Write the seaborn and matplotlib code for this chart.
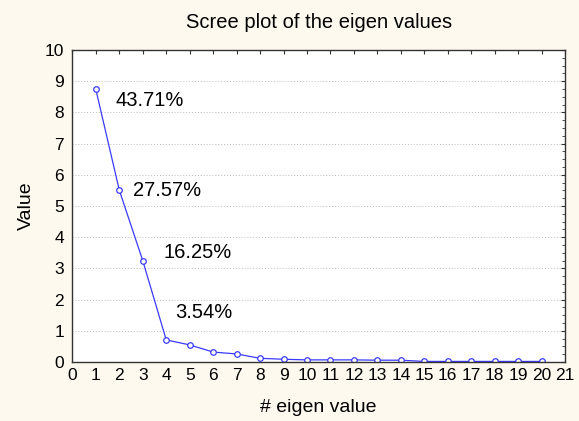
import numpy as np
import pandas as pd
import matplotlib
matplotlib.use('Agg')
import matplotlib.pyplot as plt
from matplotlib.ticker import MultipleLocator
import seaborn as sns

# eigen values (20 variables, sum ~ 20)
eigen_idx = list(range(1, 21))
eigen_vals = [8.74, 5.51, 3.25, 0.71, 0.55, 0.32, 0.26, 0.12, 0.09, 0.07,
              0.07, 0.07, 0.06, 0.06, 0.02, 0.02, 0.02, 0.02, 0.02, 0.02]
pct_labels = ['43.71%', '27.57%', '16.25%', '3.54%']
pct_x = [1.85, 2.6, 3.9, 4.4]
pct_y = [8.37, 5.5, 3.5, 1.6]

df = pd.DataFrame({'idx': eigen_idx, 'value': eigen_vals})

sns.set_style('white')
plt.rcParams['font.family'] = ['Liberation Sans', 'DejaVu Sans']
plt.rcParams['text.color'] = 'black'
plt.rcParams['axes.labelcolor'] = 'black'
plt.rcParams['xtick.color'] = 'black'
plt.rcParams['ytick.color'] = 'black'

bg = '#fef9ef'
fig, ax = plt.subplots(figsize=(5.79, 4.21), dpi=100, facecolor=bg)
fig.subplots_adjust(left=0.125, right=0.976, top=0.881, bottom=0.14)
ax.set_facecolor('white')

sns.lineplot(data=df, x='idx', y='value', ax=ax, color='#3a3aff', lw=0.9,
             marker='o', markersize=4, markerfacecolor='white',
             markeredgecolor='#3a3aff', markeredgewidth=0.9)

for lab, x, y in zip(pct_labels, pct_x, pct_y):
    ax.text(x, y, lab, fontsize=14.5, va='center', ha='left', color='black')

ax.set_xlim(0, 21)
ax.set_ylim(0, 10)
ax.xaxis.set_major_locator(MultipleLocator(1))
ax.yaxis.set_major_locator(MultipleLocator(1))
ax.yaxis.set_minor_locator(MultipleLocator(0.25))
ax.tick_params(which='both', direction='in', top=True, right=True,
               labelsize=12.5, color='#333333', labelcolor='black')
ax.tick_params(axis='x', pad=4)
ax.tick_params(axis='y', pad=6)
ax.tick_params(which='major', length=3, width=0.8)
ax.tick_params(which='minor', length=2, width=0.6)
ax.grid(axis='y', which='major', linestyle=(0, (1, 2)), color='#bbbbbb', lw=0.7)
ax.set_axisbelow(True)
for s in ax.spines.values():
    s.set_color('#333333')
    s.set_linewidth(1)

ax.set_title('Scree plot of the eigen values', fontsize=14.5, pad=16, color='black')
ax.set_xlabel('# eigen value', fontsize=14, labelpad=12, color='black')
ax.set_ylabel('Value', fontsize=14, labelpad=7, color='black')

fig.savefig('out.png', dpi=100, facecolor=bg)
